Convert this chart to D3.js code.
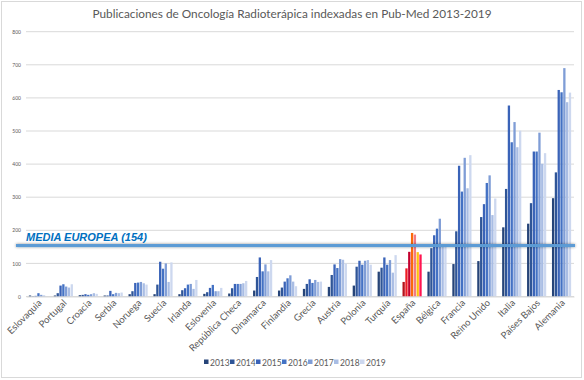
<!DOCTYPE html>
<html><head><meta charset="utf-8">
<script src="https://cdn.jsdelivr.net/npm/d3@7"></script>
<style>body{margin:0;background:#fff}svg{display:block}</style>
</head><body><svg id="c" width="584" height="380"></svg>
<script>
const categories = ["Eslovaquia","Portugal","Croacia","Serbia","Noruega","Suecia","Irlanda","Eslovenia","República Checa","Dinamarca","Finlandia","Grecia","Austria","Polonia","Turquía","España","Bélgica","Francia","Reino Unido","Italia","Países Bajos","Alemania"];
const years = ["2013","2014","2015","2016","2017","2018","2019"];
const v2013 = [3,3,4,3,7,7,7,8,9,18,18,23,29,33,75,44,75,98,107,209,220,297];
const v2014 = [1,10,5,3,16,36,19,13,25,59,27,38,65,90,87,85,146,197,240,325,282,375];
const v2015 = [2,33,7,17,41,105,25,26,38,118,45,52,97,108,118,135,185,395,279,577,438,624];
const v2016 = [10,37,5,7,42,84,36,35,38,76,55,41,86,96,96,192,205,317,343,466,438,617];
const v2017 = [5,30,7,11,44,100,38,16,38,97,64,50,113,108,110,187,235,419,366,527,495,690];
const v2018 = [3,27,10,10,40,44,23,16,40,76,45,44,111,110,72,134,150,327,246,451,401,587];
const v2019 = [1,37,8,12,36,103,50,26,47,110,31,45,100,96,125,127,155,427,296,501,433,616];
const series = [v2013,v2014,v2015,v2016,v2017,v2018,v2019];
const yTicks = [0,100,200,300,400,500,600,700,800];
const mediaEuropea = 154;
const highlight = "España";

const blues = ["#264478","#2f5597","#3a63b8","#4472c4","#7f9dd6","#a9bde4","#cdd8ef"];
const reds = ["#b5121b","#ee1c25","#c3002f","#fb6a0a","#f07a86","#ffc20e","#ff1552"];

const svg = d3.select("#c");
const font = "Lato, 'Open Sans', sans-serif";

svg.append("rect").attr("x",1.5).attr("y",1.5).attr("width",580).attr("height",376)
  .attr("fill","#fff").attr("stroke","#d9d9d9");

const x = d3.scaleBand().domain(categories).range([26,574]).paddingInner(0.19).paddingOuter(0.095);
const xs = d3.scaleBand().domain(years).range([0,x.bandwidth()]).padding(0.18);
const y = d3.scaleLinear().domain([0,800]).range([296.5,31.7]);

// title
svg.append("text").attr("x",292).attr("y",18).attr("text-anchor","middle")
  .attr("font-family",font).attr("font-size",11.8).attr("fill","#595959")
  .text("Publicaciones de Oncología Radioterápica indexadas en Pub-Med 2013-2019");

// gridlines
svg.append("g").selectAll("line").data(yTicks).join("line")
  .attr("x1",26).attr("x2",574).attr("y1",d=>y(d)).attr("y2",d=>y(d))
  .attr("stroke","#d9d9d9").attr("stroke-width",1);

// y axis labels
const yAxis = d3.axisLeft(y).tickValues(yTicks).tickSize(0).tickPadding(4);
const ga = svg.append("g").attr("transform","translate(25,0)").call(yAxis);
ga.select(".domain").remove();
ga.selectAll("text").attr("font-family",font).attr("font-size",5).attr("fill","#595959");

// bars
const groups = svg.append("g").selectAll("g").data(categories).join("g")
  .attr("transform",d=>`translate(${x(d)},0)`);
groups.selectAll("rect").data((c,i)=>years.map((yr,j)=>({c,yr,j,v:series[j][i]}))).join("rect")
  .attr("x",d=>xs(d.yr)).attr("width",xs.bandwidth())
  .attr("y",d=>y(d.v)).attr("height",d=>y(0)-y(d.v))
  .attr("fill",d=>d.c===highlight?reds[d.j]:blues[d.j]);

// x axis labels
const xAxis = d3.axisBottom(x).tickSize(0).tickPadding(0);
const gx = svg.append("g").attr("transform",`translate(0,${y(0)})`).call(xAxis);
gx.select(".domain").attr("stroke","#d9d9d9");
gx.selectAll("text").attr("font-family",font).attr("font-size",9.5).attr("fill","#595959")
  .attr("text-anchor","end").attr("dy",0).attr("y",0)
  .attr("transform","translate(4,7) rotate(-45)");

// media europea line
const defs = svg.append("defs");
const f = defs.append("filter").attr("id","sh").attr("filterUnits","userSpaceOnUse")
  .attr("x",0).attr("y",y(mediaEuropea)-12).attr("width",584).attr("height",24);
f.append("feGaussianBlur").attr("in","SourceAlpha").attr("stdDeviation",1.6).attr("result","b");
f.append("feComponentTransfer").attr("in","b").attr("result","o2").append("feFuncA").attr("type","linear").attr("slope",0.45);
const m = f.append("feMerge"); m.append("feMergeNode").attr("in","o2"); m.append("feMergeNode").attr("in","SourceGraphic");
svg.append("rect").attr("x",16).attr("width",559).attr("y",y(mediaEuropea)-1.5).attr("height",3)
  .attr("fill","#5b9bd5").attr("filter","url(#sh)");
svg.append("text").attr("x",26).attr("y",y(mediaEuropea)-5)
  .attr("font-family","'Liberation Sans', Arial, sans-serif").attr("font-weight","bold").attr("font-style","italic")
  .attr("font-size",11).attr("fill","#0070c0").text(`MEDIA EUROPEA (${mediaEuropea})`);

// legend
const lg = svg.append("g").attr("transform","translate(204,363)");
const items = lg.selectAll("g").data(years).join("g").attr("transform",(d,i)=>`translate(${i*26},0)`);
items.append("rect").attr("x",0).attr("y",-3.5).attr("width",4.5).attr("height",4.5).attr("fill",(d,i)=>blues[i]);
items.append("text").attr("x",6).attr("y",3).attr("font-family",font).attr("font-size",8.5).attr("fill","#595959").text(d=>d);
</script></body></html>
